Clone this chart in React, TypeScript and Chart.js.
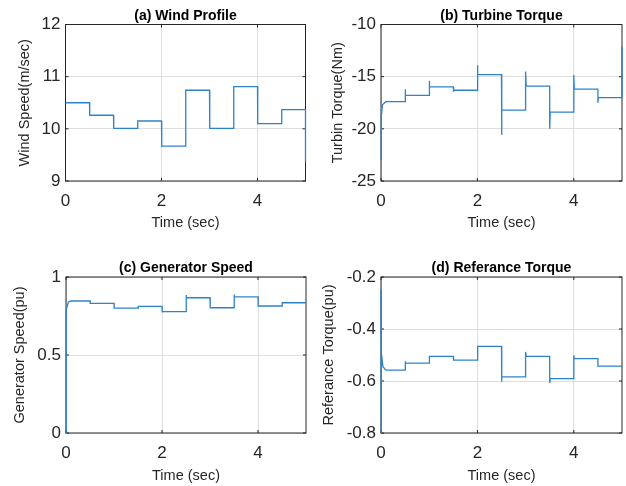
import React, { useEffect, useRef } from "react";
import { Chart, registerables } from "chart.js";

Chart.register(...registerables);

// ---------- data ----------
const stepTimes = [0, 0.5, 1, 1.5, 2, 2.5, 3, 3.5, 4, 4.5, 5];

// (a) wind profile
const windStartT = [0];
const windStartV = [10.5];
const windLevels = [10.5, 10.26, 10.01, 10.15, 9.67, 10.74, 10.01, 10.81, 10.1, 10.37];
const windSpikes = [10.26, 10.01, 10.15, 9.67, 10.74, 10.01, 10.81, 10.1, 10.37];
const windEnd = 9.37;

// (b) turbine torque
const torqueStartT = [0, 0.004, 0.03, 0.1];
const torqueStartV = [-23, -18.9, -17.7, -17.4];
const torqueLevels = [-17.4, -16.8, -15.97, -16.3, -14.8, -18.2, -15.9, -18.4, -16.2, -17.0];
const torqueSpikes = [-16.2, -15.4, -16.45, -13.9, -20.6, -14.5, -20.0, -14.85, -17.5];
const torqueEnd = -12.1;

// (c) generator speed
const genStartT = [0, 0.004, 0.05, 0.1];
const genStartV = [0, 0.79, 0.84, 0.846];
const genLevels = [0.846, 0.831, 0.8, 0.812, 0.778, 0.867, 0.803, 0.873, 0.814, 0.835];
const genSpikes = [0.85, 0.8, 0.812, 0.772, 0.884, 0.803, 0.888, 0.814, 0.822];
const genEnd = 0.835;

// (d) reference torque
const refStartT = [0, 0.002, 0.006, 0.04, 0.1];
const refStartV = [-0.25, -0.8, -0.488, -0.545, -0.558];
const refLevels = [-0.558, -0.531, -0.505, -0.52, -0.467, -0.584, -0.505, -0.591, -0.514, -0.543];
const refSpikes = [-0.524, -0.505, -0.52, -0.467, -0.603, -0.488, -0.608, -0.501, -0.543];
const refEnd = -0.543;

// tick settings
const xTickStep = 2;
const windTicks = { min: 9, max: 12, step: 1 };
const torqueTicks = { min: -25, max: -10, step: 5 };
const genTicks = { min: 0, max: 1, step: 0.5 };
const refTicks = { min: -0.8, max: -0.2, step: 0.2 };

function buildSeries(startT: number[], startV: number[], levels: number[], spikes: number[], endV: number) {
  const pts: { x: number; y: number }[] = startT.map((t, i) => ({ x: t, y: startV[i] }));
  for (let i = 0; i < levels.length; i++) {
    const t0 = stepTimes[i];
    const t1 = stepTimes[i + 1];
    if (i > 0) {
      pts.push({ x: t0, y: spikes[i - 1] });
      pts.push({ x: t0 + 0.01, y: levels[i] });
    }
    pts.push({ x: t1, y: levels[i] });
  }
  pts.push({ x: stepTimes[stepTimes.length - 1], y: endV });
  return pts;
}

const FONT = "'Liberation Sans', Arial, Helvetica, sans-serif";
const TXT = "#262626";
const GRID = "#dedede";
const LINE = "#2b83cc";

const boxPlugin = {
  id: "matlabBox",
  beforeDatasetsDraw(chart: any) {
    const { ctx, chartArea, scales } = chart;
    const { left, right, top, bottom } = chartArea;
    ctx.save();
    ctx.strokeStyle = TXT;
    ctx.lineWidth = 1;
    ctx.strokeRect(left, top, right - left, bottom - top);
    const tl = 3;
    ctx.beginPath();
    scales.x.ticks.forEach((t: any) => {
      const px = scales.x.getPixelForValue(t.value);
      ctx.moveTo(px, bottom);
      ctx.lineTo(px, bottom - tl);
      ctx.moveTo(px, top);
      ctx.lineTo(px, top + tl);
    });
    scales.y.ticks.forEach((t: any) => {
      const py = scales.y.getPixelForValue(t.value);
      ctx.moveTo(left, py);
      ctx.lineTo(left + tl, py);
      ctx.moveTo(right, py);
      ctx.lineTo(right - tl, py);
    });
    ctx.stroke();
    ctx.restore();
  },
};

type Panel = {
  title: string;
  yTitle: string;
  pts: { x: number; y: number }[];
  ticks: { min: number; max: number; step: number };
  decimals: number;
  pad: { left: number; right: number; top: number; bottom: number };
  yW: number;
  yTitlePad: number;
  xH: number;
  tPad: { top: number; bottom: number };
};

const panels: Panel[] = [
  {
    title: "(a) Wind Profile",
    yTitle: "Wind Speed(m/sec)",
    pts: buildSeries(windStartT, windStartV, windLevels, windSpikes, windEnd),
    ticks: windTicks,
    decimals: 0,
    pad: { left: 0, right: 320.5, top: 0, bottom: 254.4 },
    yW: 65.5,
    yTitlePad: 16.3,
    xH: 50.6,
    tPad: { top: 7.7, bottom: 0 },
  },
  {
    title: "(b) Turbine Torque",
    yTitle: "Turbin Torque(Nm)",
    pts: buildSeries(torqueStartT, torqueStartV, torqueLevels, torqueSpikes, torqueEnd),
    ticks: torqueTicks,
    decimals: 0,
    pad: { left: 313, right: 4, top: 0, bottom: 254.4 },
    yW: 68,
    yTitlePad: 16.3,
    xH: 50.6,
    tPad: { top: 7.7, bottom: 0 },
  },
  {
    title: "(c) Generator Speed",
    yTitle: "Generator Speed(pu)",
    pts: buildSeries(genStartT, genStartV, genLevels, genSpikes, genEnd),
    ticks: genTicks,
    decimals: -1,
    pad: { left: 0, right: 320, top: 250, bottom: 1 },
    yW: 66,
    yTitlePad: 11.3,
    xH: 52,
    tPad: { top: 9.9, bottom: 0.3 },
  },
  {
    title: "(d) Referance Torque",
    yTitle: "Referance Torque(pu)",
    pts: buildSeries(refStartT, refStartV, refLevels, refSpikes, refEnd),
    ticks: refTicks,
    decimals: 1,
    pad: { left: 313, right: 4, top: 250, bottom: 1 },
    yW: 68,
    yTitlePad: 6.8,
    xH: 52,
    tPad: { top: 9.9, bottom: 0.3 },
  },
];

function makeConfig(p: Panel): any {
  const tickFont = { family: FONT, size: 17 };
  const titleFont = { family: FONT, size: 14.5 };
  return {
    type: "line",
    data: {
      datasets: [
        {
          data: p.pts,
          borderColor: LINE,
          borderWidth: 1.3,
          pointRadius: 0,
          fill: false,
          tension: 0,
          clip: 2,
        },
      ],
    },
    options: {
      animation: false,
      responsive: false,
      maintainAspectRatio: false,
      devicePixelRatio: 1,
      layout: { padding: p.pad },
      plugins: {
        legend: { display: false },
        tooltip: { enabled: false },
        title: {
          display: true,
          fullSize: false,
          text: p.title,
          color: "#000",
          font: { family: FONT, size: 14, weight: "bold" },
          padding: p.tPad,
        },
      },
      scales: {
        x: {
          type: "linear",
          min: 0,
          max: 5,
          ticks: {
            stepSize: xTickStep,
            includeBounds: false,
            padding: 10,
            font: tickFont,
            color: TXT,
            maxRotation: 0,
            autoSkip: false,
          },
          grid: { color: GRID, drawTicks: false },
          border: { display: false },
          title: { display: true, text: "Time (sec)", font: titleFont, color: TXT, padding: 0 },
          afterFit: (s: any) => {
            s.height = p.xH;
          },
        },
        y: {
          type: "linear",
          min: p.ticks.min,
          max: p.ticks.max,
          ticks: {
            stepSize: p.ticks.step,
            padding: 5,
            font: tickFont,
            color: TXT,
            callback: (v: number) =>
              p.decimals >= 0 ? Number(v).toFixed(p.decimals) : String(Math.round(v * 10) / 10),
          },
          grid: { color: GRID, drawTicks: false },
          border: { display: false },
          title: {
            display: true,
            text: p.yTitle,
            font: titleFont,
            color: TXT,
            padding: { top: p.yTitlePad, bottom: 0 },
          },
          afterFit: (s: any) => {
            s.width = p.yW;
          },
        },
      },
    },
    plugins: [boxPlugin],
  };
}

export default function App() {
  const r0 = useRef<HTMLCanvasElement>(null);
  const r1 = useRef<HTMLCanvasElement>(null);
  const r2 = useRef<HTMLCanvasElement>(null);
  const r3 = useRef<HTMLCanvasElement>(null);
  const refs = [r0, r1, r2, r3];

  useEffect(() => {
    const charts = panels.map((p, i) => new Chart(refs[i].current as HTMLCanvasElement, makeConfig(p)));
    return () => charts.forEach((c) => c.destroy());
  }, []);

  return (
    <div style={{ position: "absolute", left: 0, top: 0, width: 626, height: 486, background: "#fff" }}>
      {refs.map((r, i) => (
        <canvas
          key={i}
          ref={r}
          width={626}
          height={486}
          style={{ position: "absolute", left: 0, top: 0, width: 626, height: 486 }}
        />
      ))}
    </div>
  );
}
